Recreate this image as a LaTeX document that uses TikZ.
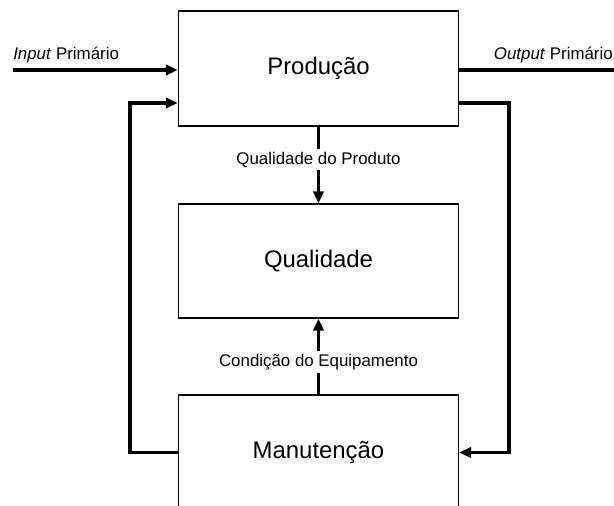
\documentclass[tikz,border=0pt]{standalone}
\usepackage{fontspec}
\setmainfont{Liberation Sans}
\usetikzlibrary{arrows.meta}
\tikzset{
blockbox/.style={rectangle, draw=black!100, fill=none, line width=1pt, inner sep=0pt, minimum width=7cm, minimum height=2.875cm, font=\fontsize{17}{20}\selectfont},
flowline/.style={line width=2.2pt, black, -{Triangle[length=3mm,width=2.6mm]}},
plainline/.style={line width=2.2pt, black},
flowlabel/.style={fill=white, inner sep=2pt, font=\fontsize{12}{14}\selectfont},
sidelabel/.style={inner sep=0pt, font=\fontsize{12}{14}\selectfont},
}
\begin{document}
\begin{tikzpicture}[x=0.025cm,y=-0.025cm]
        \clip (0,0) rectangle (614,506);
        \node[blockbox] at (318.5,68.5) (prod) {Produção};
        \node[blockbox, minimum height=2.85cm] at (318.5,261) (qual) {Qualidade};
        \node[blockbox] at (318.5,452.5) (manu) {Manutenção};
        \coordinate (inp) at (13,70);
        \coordinate (outp) at (616,70);
        \node[sidelabel, anchor=west] at (13,55) (inplabel) {\textit{Input} Primário};
        \node[sidelabel, anchor=east] at (613,55) (outplabel) {\textit{Output} Primário};
        \draw[flowline] (inp) -- (inp -| prod.west);
        \draw[plainline] (outp -| prod.east) -- (outp);
        \draw[flowline] (manu.west) -- (130,452.5) -- (130,103) -- (prod.west |- 0,103);
        \draw[flowline] (prod.east |- 0,103) -- (509,103) -- (509,452.5) -- (manu.east);
        \draw[flowline] (prod.south) -- node[flowlabel, pos=0.43]{Qualidade do Produto} (qual.north);
        \draw[flowline] (manu.north) -- node[flowlabel, pos=0.43]{Condição do Equipamento} (qual.south);
\end{tikzpicture}
\end{document}
